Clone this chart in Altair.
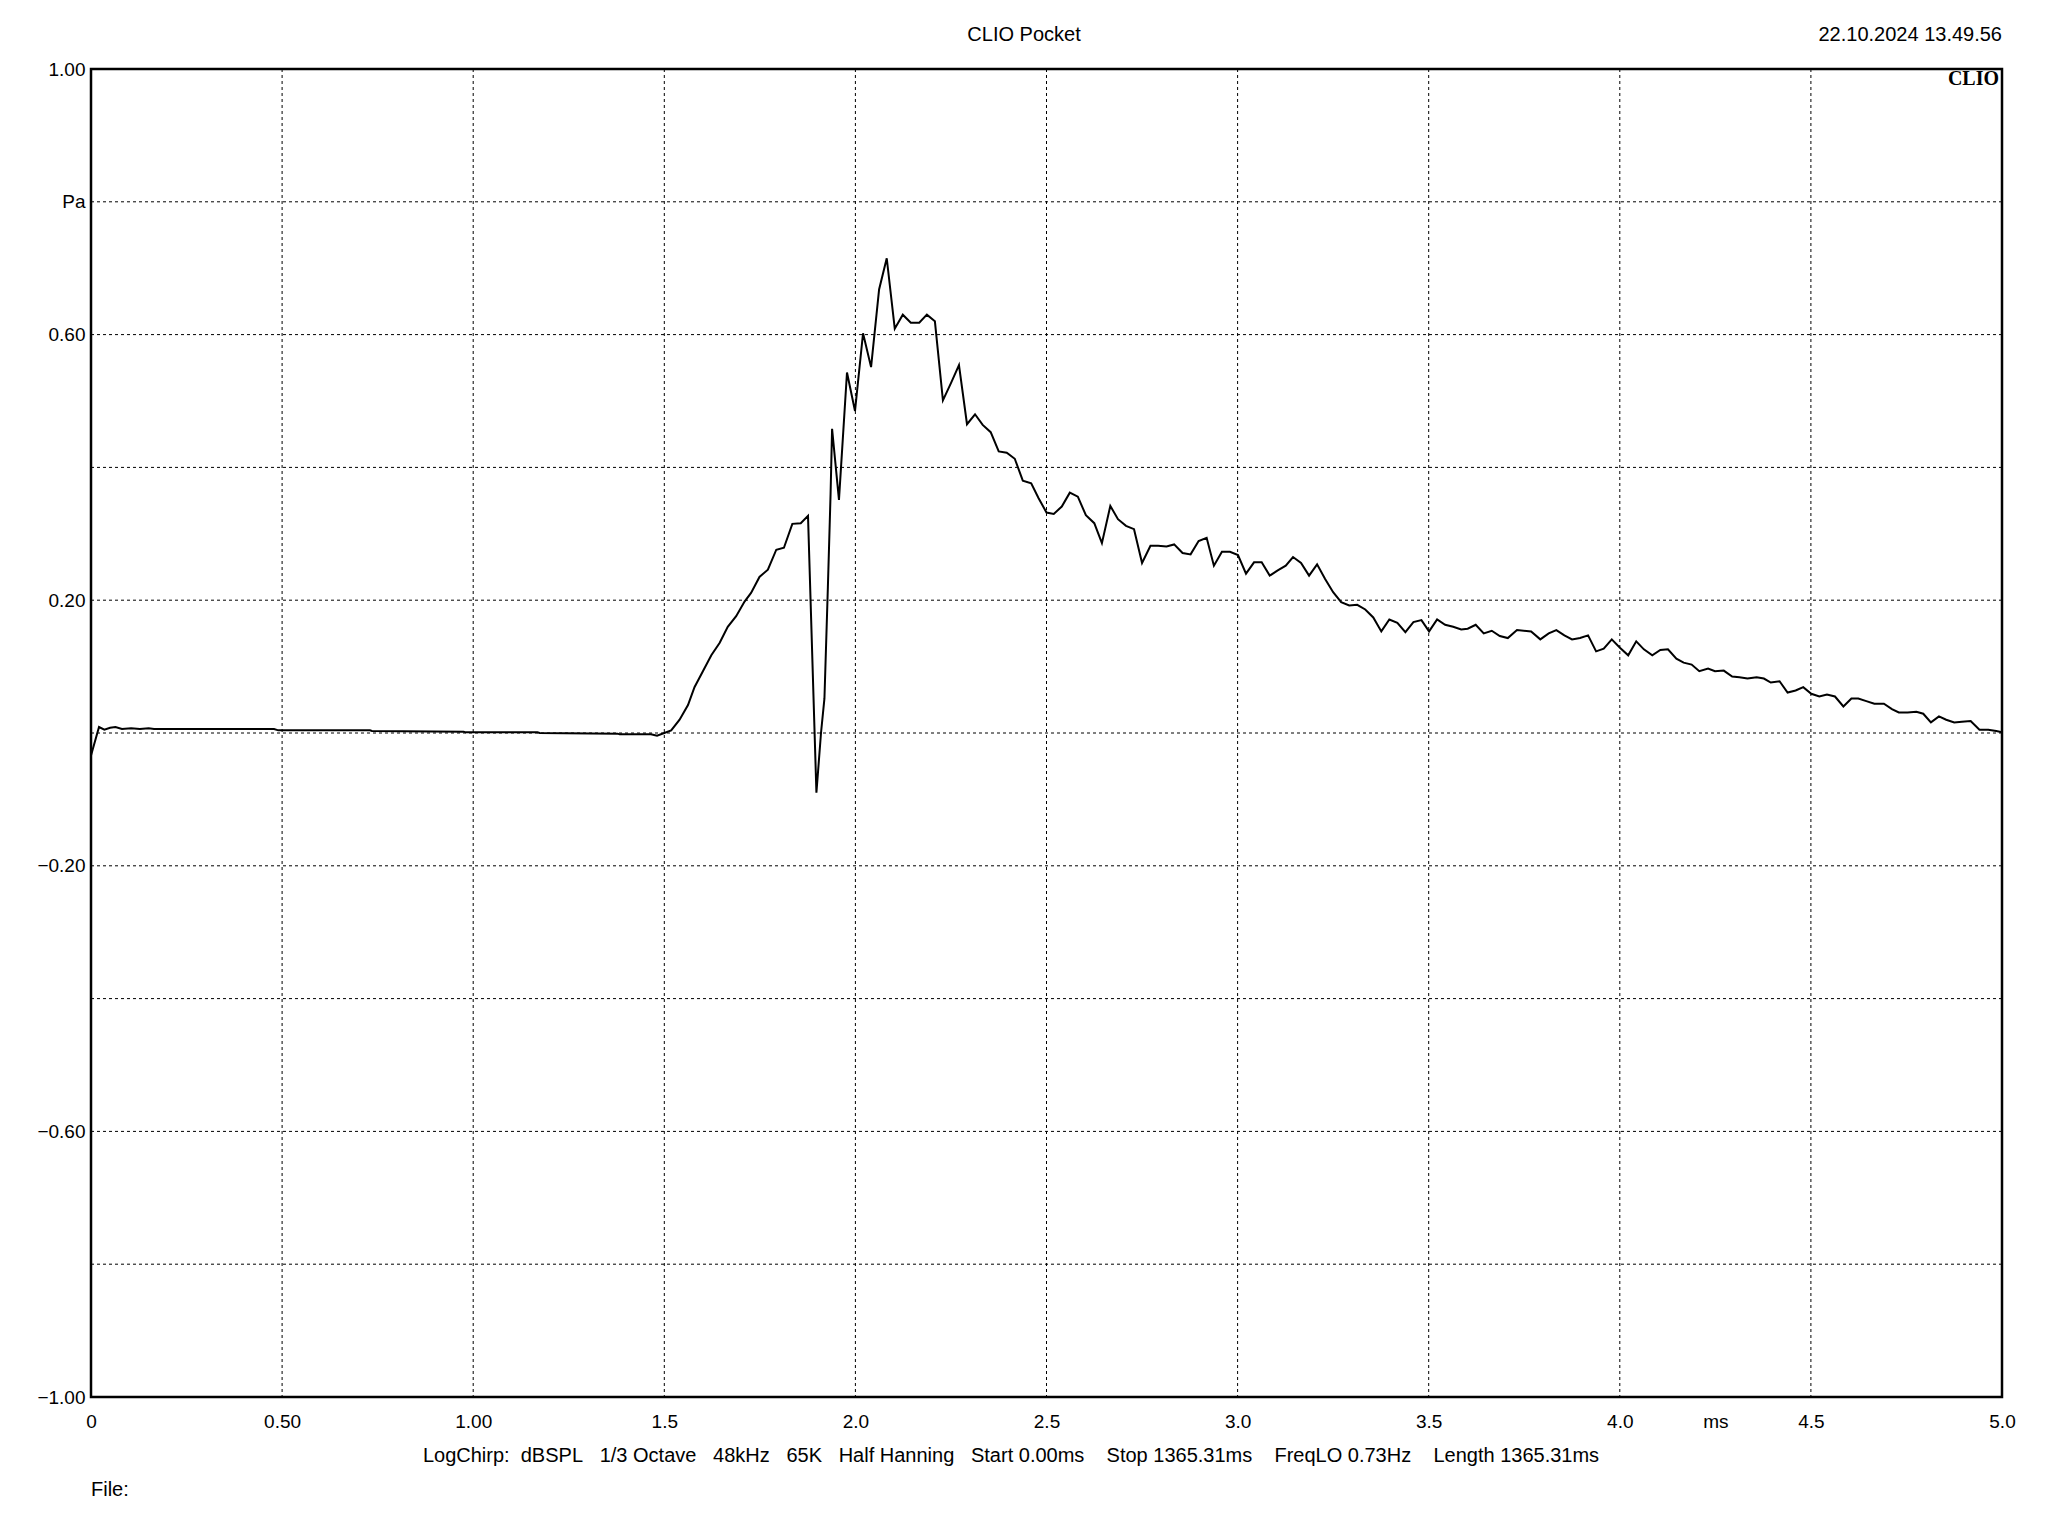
import altair as alt
import pandas as pd

# ---- data (time in ms, pressure in Pa) ----
t_ms = [0.000, 0.021, 0.035, 0.050, 0.064, 0.081, 0.105, 0.128, 0.151, 0.165, 0.479, 0.490,
        0.730, 0.735, 0.975, 0.980, 1.168, 1.174, 1.378, 1.383, 1.465, 1.481, 1.500, 1.518,
        1.540, 1.562, 1.579, 1.601, 1.623, 1.645, 1.666, 1.688, 1.710, 1.727, 1.749, 1.771,
        1.793, 1.813, 1.835, 1.857, 1.876, 1.898, 1.910, 1.919, 1.928, 1.935, 1.939, 1.957,
        1.978, 1.999, 2.020, 2.041, 2.062, 2.082, 2.103, 2.124, 2.145, 2.167, 2.187, 2.208,
        2.229, 2.250, 2.271, 2.292, 2.313, 2.333, 2.354, 2.375, 2.396, 2.417, 2.438, 2.460,
        2.479, 2.500, 2.519, 2.540, 2.561, 2.582, 2.603, 2.625, 2.645, 2.667, 2.687, 2.708,
        2.729, 2.750, 2.772, 2.792, 2.814, 2.834, 2.856, 2.877, 2.898, 2.919, 2.938, 2.959,
        2.980, 3.001, 3.022, 3.043, 3.063, 3.084, 3.105, 3.126, 3.145, 3.166, 3.187, 3.208,
        3.229, 3.250, 3.271, 3.292, 3.313, 3.334, 3.355, 3.376, 3.397, 3.418, 3.439, 3.460,
        3.481, 3.501, 3.522, 3.543, 3.564, 3.585, 3.602, 3.623, 3.644, 3.665, 3.686, 3.707,
        3.731, 3.768, 3.792, 3.814, 3.834, 3.855, 3.875, 3.896, 3.917, 3.938, 3.958, 3.979,
        4.001, 4.022, 4.043, 4.063, 4.085, 4.106, 4.126, 4.148, 4.167, 4.188, 4.208, 4.231,
        4.249, 4.272, 4.294, 4.313, 4.334, 4.358, 4.377, 4.395, 4.418, 4.439, 4.460, 4.480,
        4.501, 4.522, 4.542, 4.563, 4.585, 4.606, 4.624, 4.645, 4.666, 4.691, 4.712, 4.730,
        4.753, 4.776, 4.794, 4.814, 4.835, 4.854, 4.875, 4.895, 4.918, 4.941, 4.964, 4.985,
        5.000]
p_pa = [-0.034, 0.009, 0.005, 0.008, 0.009, 0.006, 0.007, 0.006, 0.007, 0.006, 0.006, 0.004,
        0.004, 0.003, 0.002, 0.001, 0.001, 0.000, -0.001, -0.002, -0.002, -0.004, 0.000, 0.004,
        0.020, 0.042, 0.069, 0.093, 0.117, 0.136, 0.160, 0.176, 0.198, 0.211, 0.235, 0.246,
        0.276, 0.279, 0.315, 0.316, 0.327, -0.090, 0.000, 0.052, 0.220, 0.359, 0.458, 0.351,
        0.543, 0.485, 0.602, 0.551, 0.668, 0.715, 0.609, 0.630, 0.618, 0.618, 0.630, 0.620,
        0.501, 0.527, 0.554, 0.465, 0.480, 0.464, 0.453, 0.424, 0.422, 0.413, 0.380, 0.376,
        0.354, 0.332, 0.330, 0.341, 0.362, 0.356, 0.328, 0.316, 0.286, 0.342, 0.322, 0.312,
        0.307, 0.256, 0.282, 0.282, 0.281, 0.284, 0.271, 0.269, 0.289, 0.294, 0.252, 0.273,
        0.273, 0.268, 0.240, 0.257, 0.257, 0.237, 0.245, 0.252, 0.265, 0.256, 0.237, 0.254,
        0.232, 0.212, 0.197, 0.192, 0.193, 0.186, 0.174, 0.153, 0.171, 0.166, 0.152, 0.167,
        0.170, 0.153, 0.171, 0.163, 0.160, 0.156, 0.157, 0.163, 0.150, 0.154, 0.146, 0.143,
        0.155, 0.153, 0.141, 0.150, 0.155, 0.147, 0.141, 0.143, 0.147, 0.123, 0.127, 0.141,
        0.128, 0.117, 0.138, 0.126, 0.117, 0.125, 0.126, 0.112, 0.106, 0.103, 0.093, 0.097,
        0.093, 0.094, 0.085, 0.084, 0.082, 0.084, 0.082, 0.076, 0.078, 0.061, 0.064, 0.069,
        0.059, 0.055, 0.058, 0.055, 0.040, 0.052, 0.052, 0.048, 0.044, 0.044, 0.036, 0.031,
        0.031, 0.032, 0.029, 0.016, 0.025, 0.020, 0.016, 0.017, 0.018, 0.005, 0.005, 0.003,
        0.001]

x_grid = [0.5, 1.0, 1.5, 2.0, 2.5, 3.0, 3.5, 4.0, 4.5]
y_grid = [-0.8, -0.6, -0.4, -0.2, 0.0, 0.2, 0.4, 0.6, 0.8]
x_label_values = [0, 0.5, 1.0, 1.5, 2.0, 2.5, 3.0, 3.5, 4.0, 4.25, 4.5, 5.0]
y_label_values = [-1.0, -0.6, -0.2, 0.2, 0.6, 0.8, 1.0]

title_text = "CLIO Pocket"
date_text = "22.10.2024 13.49.56"
logo_text = "CLIO"
info_parts = ["LogChirp:", "dBSPL", "1/3 Octave", "48kHz", "65K", "Half Hanning",
              "Start 0.00ms", "Stop 1365.31ms", "FreqLO 0.73Hz", "Length 1365.31ms"]
info_gaps = [2, 3, 3, 3, 3, 3, 4, 4, 4]
file_text = "File:"

NB = "\u00a0"
info_text = info_parts[0]
for g, part in zip(info_gaps, info_parts[1:]):
    info_text += NB * g + part.replace(" ", NB)

W, H = 1911, 1328
FONT = "Liberation Sans"

xs = alt.Scale(domain=[0, 5], nice=False, zero=False)
ys = alt.Scale(domain=[-1, 1], nice=False, zero=False)

curve_df = pd.DataFrame({"t": t_ms, "p": p_pa})

x_axis = alt.Axis(values=x_label_values, grid=False, ticks=False, domain=False,
                  labelExpr="datum.value == 0 ? '0' : datum.value == 0.5 ? '0.50' : "
                            "datum.value == 1 ? '1.00' : datum.value == 4.25 ? 'ms' : "
                            "format(datum.value, '.1f')",
                  labelFont=FONT, labelFontSize=19, labelColor="black", labelPadding=15,
                  labelFlush=False, labelOverlap=False, title=None)
y_axis = alt.Axis(values=y_label_values, grid=False, ticks=False, domain=False,
                  labelExpr="abs(datum.value - 0.8) < 0.001 ? 'Pa' : format(datum.value, '.2f')",
                  labelFont=FONT, labelFontSize=19, labelColor="black", labelPadding=6,
                  labelFlush=False, labelOverlap=False, title=None)

vgrid = alt.Chart(pd.DataFrame({"g": x_grid})).mark_rule(
    color="black", strokeWidth=1, strokeDash=[3, 3]).encode(
    x=alt.X("g:Q", scale=xs, axis=x_axis))
hgrid = alt.Chart(pd.DataFrame({"g": y_grid})).mark_rule(
    color="black", strokeWidth=1, strokeDash=[3, 3]).encode(
    y=alt.Y("g:Q", scale=ys, axis=y_axis))

curve = alt.Chart(curve_df).mark_line(color="black", strokeWidth=2, interpolate="linear").encode(
    x=alt.X("t:Q", scale=xs, axis=x_axis),
    y=alt.Y("p:Q", scale=ys, axis=y_axis),
    order="t:Q")

def label(txt, x, y, align="center", font=FONT, size=20, weight="normal"):
    return alt.Chart(pd.DataFrame({"s": [txt]})).mark_text(
        align=align, baseline="middle", font=font, fontSize=size, fontWeight=weight,
        color="black").encode(text="s:N", x=alt.value(x), y=alt.value(y))

texts = [
    label(title_text, 933, -34),
    label(date_text, W, -34, align="right"),
    label(logo_text, W - 3, 10, align="right", font="Liberation Serif", size=20, weight="bold"),
    label(info_text, 920, 1387, size=20),
    label(file_text, 0, 1421, align="left"),
]

chart = alt.layer(vgrid, hgrid, curve, *texts).properties(
    width=W, height=H,
    autosize=alt.AutoSizeParams(type="none"),
    padding={"left": 83, "top": 61, "right": 30, "bottom": 130},
).configure(
    background="white",
    view=alt.ViewConfig(stroke="black", strokeWidth=2.5),
)

chart.save("out.html", embed_options={"renderer": "svg", "actions": False})
